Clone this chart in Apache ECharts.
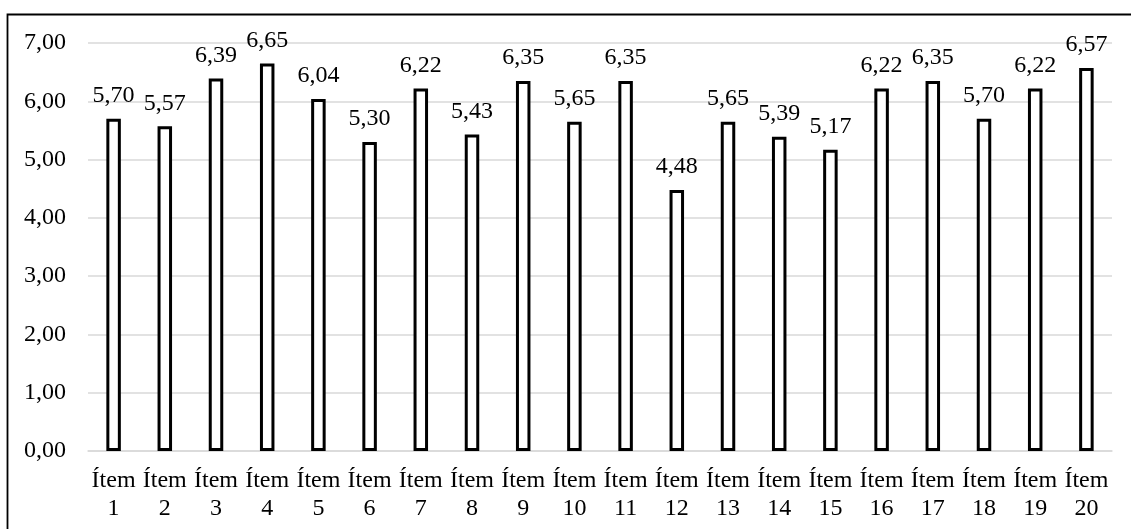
<!DOCTYPE html>
<html>
<head>
<meta charset="utf-8">
<script src="https://cdn.jsdelivr.net/npm/echarts@6/dist/echarts.min.js"></script>
<style>
  html, body { margin: 0; padding: 0; background: #ffffff; }
  #chart { width: 1131px; height: 529px; }
</style>
</head>
<body>
<div id="chart"></div>
<script>
// Mean score per item
const categories = ['Ítem\n1', 'Ítem\n2', 'Ítem\n3', 'Ítem\n4', 'Ítem\n5', 'Ítem\n6', 'Ítem\n7', 'Ítem\n8', 'Ítem\n9', 'Ítem\n10',
                    'Ítem\n11', 'Ítem\n12', 'Ítem\n13', 'Ítem\n14', 'Ítem\n15', 'Ítem\n16', 'Ítem\n17', 'Ítem\n18', 'Ítem\n19', 'Ítem\n20'];
const values = [5.70, 5.57, 6.39, 6.65, 6.04, 5.30, 6.22, 5.43, 6.35, 5.65,
                6.35, 4.48, 5.65, 5.39, 5.17, 6.22, 6.35, 5.70, 6.22, 6.57];
const yTicks = [0, 1, 2, 3, 4, 5, 6, 7];

const FONT = '"Liberation Serif", "Times New Roman", serif';
const fmt = v => v.toFixed(2).replace('.', ',');

const chart = echarts.init(document.getElementById('chart'), null, { renderer: 'canvas' });
chart.setOption({
  animation: false,
  backgroundColor: '#ffffff',
  graphic: [{
    type: 'rect',
    shape: { x: 7.5, y: 14.5, width: 1200, height: 600 },
    style: { fill: 'none', stroke: '#000000', lineWidth: 1.8 },
    silent: true
  }],
  grid: { left: 88, right: 19, top: 43, bottom: 78, containLabel: false },
  xAxis: {
    type: 'category',
    data: categories,
    axisLine: { show: true, lineStyle: { color: '#d9d9d9', width: 1.5 } },
    axisTick: { show: false },
    axisLabel: {
      interval: 0,
      margin: 16,
      color: '#000000',
      fontFamily: FONT,
      fontSize: 24,
      lineHeight: 28
    }
  },
  yAxis: {
    type: 'value',
    min: yTicks[0],
    max: yTicks[yTicks.length - 1],
    interval: 1,
    axisLine: { show: false },
    axisTick: { show: false },
    splitLine: { lineStyle: { color: '#d9d9d9', width: 1.5 } },
    axisLabel: {
      margin: 22,
      color: '#000000',
      fontFamily: FONT,
      fontSize: 24,
      formatter: v => fmt(v)
    }
  },
  series: [{
    type: 'bar',
    data: values,
    barWidth: 14.5,
    itemStyle: { color: '#ffffff', borderColor: '#000000', borderWidth: 3 },
    label: {
      show: true,
      position: 'top',
      distance: 11,
      color: '#000000',
      fontFamily: FONT,
      fontSize: 24,
      formatter: p => fmt(p.value)
    }
  }]
});
</script>
</body>
</html>
